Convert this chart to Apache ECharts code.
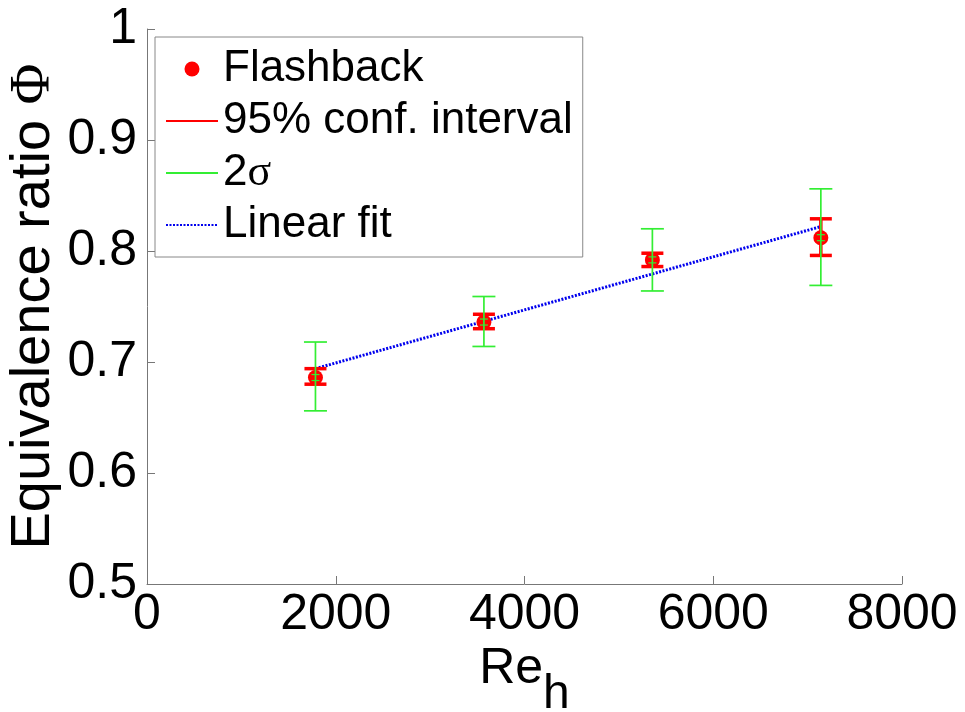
<!DOCTYPE html>
<html lang="en">
<head>
    <meta charset="UTF-8">
    <title>Flashback</title>
    <style>
        html, body { margin: 0; padding: 0; background: #fff; }
        #main { width: 965px; height: 712px; }
    </style>
</head>
<body>
<div id="main"></div>

<script src="https://cdn.jsdelivr.net/npm/echarts@6/dist/echarts.min.js"></script>
<script>
    // Re_h of the measured points
    var reH = [1785, 3570, 5355, 7140];
    // equivalence ratio at flashback
    var phiMean = [0.686, 0.736, 0.792, 0.812];
    // 95% conf. interval
    var ciLow = [0.680, 0.730, 0.786, 0.796];
    var ciHigh = [0.694, 0.743, 0.798, 0.829];
    // 2 sigma
    var sigLow = [0.656, 0.714, 0.764, 0.769];
    var sigHigh = [0.718, 0.759, 0.820, 0.856];
    // linear fit end points
    var fitX = [1785, 7140];
    var fitY = [0.694, 0.822];

    var font = "'Liberation Sans', Arial, sans-serif";
    var serif = "'Liberation Serif', 'DejaVu Serif', serif";

    function zip() {
        var cols = arguments, out = [];
        for (var i = 0; i < cols[0].length; i++) {
            var row = [];
            for (var j = 0; j < cols.length; j++) row.push(cols[j][i]);
            out.push(row);
        }
        return out;
    }

    // error bar drawn from [x, low, high]
    function errorBar(color, lw, cap, withMid) {
        return function (params, api) {
            var x = api.value(0);
            var lo = api.coord([x, api.value(1)]);
            var hi = api.coord([x, api.value(2)]);
            var st = { stroke: color, lineWidth: lw };
            var kids = [
                { type: 'line', shape: { x1: lo[0], y1: lo[1], x2: hi[0], y2: hi[1] }, style: st },
                { type: 'line', shape: { x1: lo[0] - cap, y1: lo[1], x2: lo[0] + cap, y2: lo[1] }, style: st },
                { type: 'line', shape: { x1: hi[0] - cap, y1: hi[1], x2: hi[0] + cap, y2: hi[1] }, style: st }
            ];
            if (withMid) {
                var m = api.coord([x, api.value(3)]);
                kids.push({ type: 'line', shape: { x1: m[0] - 4, y1: m[1] - 3, x2: m[0] + 4, y2: m[1] - 3 }, style: { stroke: color, lineWidth: 1.2 } });
                kids.push({ type: 'line', shape: { x1: m[0] - 4, y1: m[1] + 3, x2: m[0] + 4, y2: m[1] + 3 }, style: { stroke: color, lineWidth: 1.2 } });
            }
            return { type: 'group', children: kids };
        };
    }

    var noDot = { color: 'rgba(0,0,0,0)', borderColor: 'rgba(0,0,0,0)', borderWidth: 0 };

    var myChart = echarts.init(document.getElementById('main'));

    var option = {
        backgroundColor: '#fff',
        animation: false,
        grid: { left: 147, right: 63, top: 29, bottom: 128, containLabel: false, outerBoundsMode: 'none' },
        legend: {
            orient: 'vertical',
            left: 155,
            top: 37,
            padding: [10, 10, 10, 10],
            itemGap: 8,
            itemWidth: 52,
            itemHeight: 15,
            backgroundColor: '#fff',
            borderColor: '#888',
            borderWidth: 1,
            borderRadius: 0,
            selectedMode: false,
            textStyle: {
                fontFamily: font,
                fontSize: 44,
                color: '#000',
                rich: { s: { fontFamily: serif, fontSize: 44, color: '#000' } }
            },
            formatter: function (name) {
                return name === '2σ' ? '2{s|σ}' : name;
            },
            data: [
                { name: 'Flashback', icon: 'circle' },
                { name: '95% conf. interval', itemStyle: noDot },
                { name: '2σ', itemStyle: noDot },
                { name: 'Linear fit', itemStyle: noDot }
            ]
        },
        xAxis: {
            type: 'value',
            min: 0,
            max: 8000,
            interval: 2000,
            name: 'Re{h|h}',
            nameLocation: 'middle',
            nameGap: 60,
            nameMoveOverlap: false,
            nameTextStyle: {
                fontFamily: font,
                fontSize: 50,
                color: '#000',
                lineHeight: 50,
                rich: { h: { fontFamily: font, fontSize: 48, lineHeight: 50, padding: [52, 0, 0, 0], color: '#000' } }
            },
            axisLine: { show: true, lineStyle: { color: '#777', width: 1 } },
            axisTick: { show: true, inside: true, length: 8, lineStyle: { color: '#777' } },
            axisLabel: {
                fontFamily: font, fontSize: 50, color: '#000', margin: 6,
                formatter: function (v) { return String(v); }
            },
            splitLine: { show: false }
        },
        yAxis: {
            type: 'value',
            min: 0.5,
            max: 1,
            interval: 0.1,
            name: 'Equivalence ratio {p|Φ}',
            nameLocation: 'middle',
            nameGap: 85,
            nameMoveOverlap: false,
            nameTextStyle: {
                fontFamily: font,
                fontSize: 56,
                color: '#000',
                rich: { p: { fontFamily: serif, fontSize: 56, color: '#000' } }
            },
            axisLine: { show: true, lineStyle: { color: '#777', width: 1 } },
            axisTick: { show: true, inside: true, length: 8, lineStyle: { color: '#777' } },
            axisLabel: { fontFamily: font, fontSize: 50, color: '#000', margin: 10 },
            splitLine: { show: false }
        },
        series: [
            {
                name: 'Linear fit',
                type: 'line',
                z: 1,
                data: zip(fitX, fitY),
                symbol: 'none',
                lineStyle: { color: '#0000ee', width: 3, type: [2, 1.5] },
                itemStyle: { color: '#0000ee' }
            },
            {
                name: 'Flashback',
                type: 'scatter',
                z: 2,
                data: zip(reH, phiMean),
                symbol: 'circle',
                symbolSize: 15,
                itemStyle: { color: '#ff0000', opacity: 1 }
            },
            {
                type: 'custom',
                z: 3,
                renderItem: errorBar('#ff0000', 3.5, 11, false),
                encode: { x: 0, y: [1, 2] },
                data: zip(reH, ciLow, ciHigh)
            },
            {
                type: 'custom',
                z: 4,
                renderItem: errorBar('#33ee33', 1.7, 11.5, true),
                encode: { x: 0, y: [1, 2] },
                data: zip(reH, sigLow, sigHigh, phiMean)
            },
            // legend entries for the error bars
            {
                name: '95% conf. interval',
                type: 'line',
                data: [],
                symbol: 'none',
                lineStyle: { color: '#ff0000', width: 2 },
                itemStyle: { color: '#ff0000' }
            },
            {
                name: '2σ',
                type: 'line',
                data: [],
                symbol: 'none',
                lineStyle: { color: '#33ee33', width: 1.5 },
                itemStyle: { color: '#33ee33' }
            }
        ]
    };

    myChart.setOption(option);
</script>
</body>
</html>
